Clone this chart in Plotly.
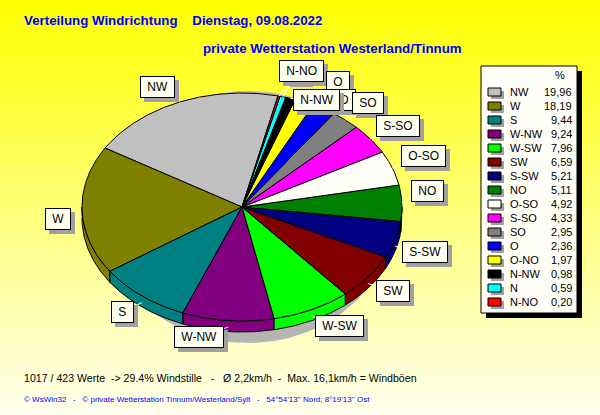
import numpy as np
import plotly.graph_objects as go

# ---------------- data ----------------
directions = ["NW", "W", "S", "W-NW", "W-SW", "SW", "S-SW", "NO",
              "O-SO", "S-SO", "SO", "O", "O-NO", "N-NW", "N", "N-NO"]
percent = [19.96, 18.19, 9.44, 9.24, 7.96, 6.59, 5.21, 5.11,
           4.92, 4.33, 2.95, 2.36, 1.97, 0.98, 0.59, 0.20]
colors = ["#C0C0C0", "#808000", "#008080", "#800080", "#00FF00", "#800000",
          "#000080", "#008000", "#FFFFF8", "#FF00FF", "#808080", "#0000FF",
          "#FFFF00", "#000000", "#00FFFF", "#FF0000"]

title_line1 = "Verteilung Windrichtung\u00a0\u00a0\u00a0 Dienstag, 09.08.2022"
title_line2 = "private Wetterstation Westerland/Tinnum"
footer_line1 = ("1017 / 423 Werte\u00a0 -&gt; 29.4% Windstille\u00a0\u00a0 -\u00a0\u00a0 "
                "Ø 2,2km/h\u00a0 -\u00a0 Max. 16,1km/h = Windböen")
footer_line2 = ("© WsWin32\u00a0\u00a0 -\u00a0\u00a0 © private Wetterstation Tinnum/Westerland/Sylt"
                "\u00a0\u00a0 -\u00a0\u00a0 54°54'13'' Nord; 8°19'13'' Ost")
legend_header = "%"

# ---------------- layout geometry ----------------
W, H = 600, 415
cx, cy, a, b, depth = 242, 207, 160, 114, 11
start_deg = 77.0

label_pos = {"NW": (157, 87), "W": (58, 219), "S": (122, 312), "W-NW": (199, 337),
             "W-SW": (339, 326), "SW": (393, 291), "S-SW": (425, 252), "NO": (427, 191),
             "O-SO": (423, 156), "S-SO": (398, 126), "SO": (368, 103), "O": (338, 82),
             "O-NO": (333, 100), "N-NW": (316, 100), "N": (297, 72), "N-NO": (301, 71)}
label_order = ["N", "N-NO", "O", "O-NO", "N-NW", "SO", "S-SO", "O-SO", "NO", "S-SW",
               "SW", "W-SW", "W-NW", "S", "W", "NW"]

FONT = "Liberation Sans, Arial, sans-serif"


def ell(t_deg, dy=0.0):
    t = np.radians(t_deg)
    return cx + a * np.cos(t), cy - b * np.sin(t) + dy


fig = go.Figure()
shapes = []
annotations = []

# background gradient
N = 83
for i in range(N):
    frac = (i + 0.5) / N
    bl = int(round(0 + 238 * frac))
    shapes.append(dict(type="rect", xref="paper", yref="paper", x0=0, x1=1,
                       y0=1 - (i + 1) / N - 0.002, y1=1 - i / N,
                       fillcolor=f"rgb(255,255,{bl})", line=dict(width=0), layer="below"))

# pie shadow
ts = np.linspace(0, 360, 200)
sx = 248 + 145 * np.cos(np.radians(ts))
sy = 217 - 126 * np.sin(np.radians(ts))
fig.add_trace(go.Scatter(x=sx, y=sy, fill="toself", fillcolor="#B4B4B4",
                         line=dict(width=0), mode="lines", hoverinfo="skip"))

# angles
total = sum(percent)
bounds = [start_deg]
for v in percent:
    bounds.append(bounds[-1] + v / total * 360.0)

# walls (visible lower half, 180..360)
for i, v in enumerate(percent):
    t0, t1 = bounds[i], bounds[i + 1]
    lo, hi = max(t0, 180.0), min(t1, 360.0)
    if hi <= lo:
        continue
    tt = np.linspace(lo, hi, max(3, int((hi - lo) * 2)))
    xs_t, ys_t = ell(tt)
    xs_b, ys_b = ell(tt[::-1], depth)
    xs = np.concatenate([xs_t, xs_b, xs_t[:1]])
    ys = np.concatenate([ys_t, ys_b, ys_t[:1]])
    fig.add_trace(go.Scatter(x=xs, y=ys, fill="toself", fillcolor=colors[i],
                             line=dict(color="black", width=1), mode="lines",
                             hoverinfo="skip"))

# top faces
for i, v in enumerate(percent):
    t0, t1 = bounds[i], bounds[i + 1]
    tt = np.linspace(t0, t1, max(3, int((t1 - t0) * 2)))
    xs, ys = ell(tt)
    xs = np.concatenate([[cx], xs, [cx]])
    ys = np.concatenate([[cy], ys, [cy]])
    fig.add_trace(go.Scatter(x=xs, y=ys, fill="toself", fillcolor=colors[i],
                             line=dict(color="black", width=1), mode="lines",
                             hoverinfo="skip"))

# leader lines
for i, name in enumerate(directions):
    mid = (bounds[i] + bounds[i + 1]) / 2
    m = mid % 360
    ex, ey = ell(mid, depth * 0.6 if 180 < m < 360 else 0)
    lx, ly = label_pos[name]
    fig.add_trace(go.Scatter(x=[ex, lx], y=[ey, ly], mode="lines",
                             line=dict(color="white", width=1), hoverinfo="skip"))

# slice labels
for name in label_order:
    lx, ly = label_pos[name]
    txt = "\u00a0" + name + "\u00a0"
    annotations.append(dict(x=lx, y=ly, xref="x", yref="y", text=txt, showarrow=False,
                            font=dict(family=FONT, size=12, color="#A0A0A0"),
                            bgcolor="#A0A0A0", bordercolor="#A0A0A0", borderwidth=1,
                            borderpad=3, xshift=4, yshift=-4))
    annotations.append(dict(x=lx, y=ly, xref="x", yref="y", text=txt, showarrow=False,
                            font=dict(family=FONT, size=12, color="black"),
                            bgcolor="#FFFFF0", bordercolor="black", borderwidth=1,
                            borderpad=3))

# legend box
lx0, lx1, ly0, ly1 = 481, 577, 66, 313
shapes.append(dict(type="rect", xref="x", yref="y", x0=lx0 + 5, x1=lx1 + 5, y0=ly0 + 5, y1=ly1 + 5,
                   fillcolor="black", line=dict(width=0)))
shapes.append(dict(type="rect", xref="x", yref="y", x0=lx0, x1=lx1, y0=ly0, y1=ly1,
                   fillcolor="#FFFFF8", line=dict(color="black", width=1)))
annotations.append(dict(x=560, y=75, xref="x", yref="y", text=legend_header, showarrow=False,
                        font=dict(family=FONT, size=11, color="black")))
for i, name in enumerate(directions):
    ry = 92 + 14 * i
    shapes.append(dict(type="rect", xref="x", yref="y", x0=491, x1=504, y0=ry - 1, y1=ry + 7,
                       fillcolor="#A0A0A0", line=dict(width=0)))
    shapes.append(dict(type="rect", xref="x", yref="y", x0=488, x1=501, y0=ry - 4, y1=ry + 4,
                       fillcolor=colors[i], line=dict(color="black", width=1)))
    annotations.append(dict(x=508, y=ry, xref="x", yref="y", text=name, showarrow=False,
                            xanchor="left", font=dict(family=FONT, size=11, color="black")))
    annotations.append(dict(x=574, y=ry, xref="x", yref="y",
                            text=f"{percent[i]:.2f}".replace(".", ","), showarrow=False,
                            xanchor="right", font=dict(family=FONT, size=11, color="black")))

# titles and footer
annotations.append(dict(x=22, y=20, xref="x", yref="y", text="<b>" + title_line1 + "</b>",
                        showarrow=False, xanchor="left",
                        font=dict(family=FONT, size=13.3, color="#0000FF")))
annotations.append(dict(x=201, y=48, xref="x", yref="y", text="<b>" + title_line2 + "</b>",
                        showarrow=False, xanchor="left",
                        font=dict(family=FONT, size=13.3, color="#0000FF")))
annotations.append(dict(x=22, y=378, xref="x", yref="y", text=footer_line1,
                        showarrow=False, xanchor="left",
                        font=dict(family=FONT, size=10.6, color="black")))
annotations.append(dict(x=22, y=399, xref="x", yref="y", text=footer_line2,
                        showarrow=False, xanchor="left",
                        font=dict(family=FONT, size=8, color="#0000FF")))

fig.update_layout(
    width=W, height=H, margin=dict(l=0, r=0, t=0, b=0),
    paper_bgcolor="#FFFF00", plot_bgcolor="rgba(0,0,0,0)",
    showlegend=False, shapes=shapes, annotations=annotations,
    xaxis=dict(range=[0, W], visible=False, fixedrange=True),
    yaxis=dict(range=[H, 0], visible=False, fixedrange=True),
)

fig.write_html("out.html", config={"displayModeBar": False},
               post_script="document.body.style.margin='0';document.body.style.padding='0';")
